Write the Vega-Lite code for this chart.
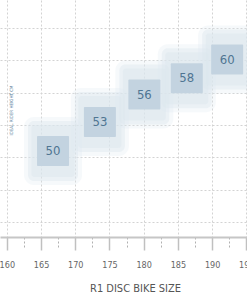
{
  "$schema": "https://vega.github.io/schema/vega-lite/v6.json",
  "width": 247,
  "height": 237,
  "autosize": {"type": "none"},
  "padding": {"left": 0, "top": 0, "right": 0, "bottom": 59},
  "background": "white",
  "data": {"values": [
    {"size": "50", "height": 166.75, "fit": 81.0},
    {"size": "53", "height": 173.6, "fit": 85.46},
    {"size": "56", "height": 180.1, "fit": 89.7},
    {"size": "58", "height": 186.3, "fit": 92.2},
    {"size": "60", "height": 192.2, "fit": 95.1}
  ]},
  "config": {
    "view": {"stroke": null},
    "font": "DejaVu Sans Condensed, Liberation Sans Narrow, sans-serif"
  },
  "encoding": {
    "x": {
      "field": "height", "type": "quantitative",
      "scale": {"domain": [159, 195.1], "nice": false, "zero": false},
      "axis": {
        "title": "R1 DISC BIKE SIZE",
        "values": [160, 162.5, 165, 167.5, 170, 172.5, 175, 177.5, 180, 182.5, 185, 187.5, 190, 192.5, 195],
        "labelExpr": "datum.value % 5 === 0 ? datum.label : ''",
        "labelFlush": false,
        "labelOverlap": false,
        "labelFontSize": 9,
        "labelColor": "#666666",
        "labelPadding": 10,
        "labelFont": "DejaVu Sans Condensed, Liberation Sans Narrow, sans-serif",
        "domainColor": "#c6c6c6",
        "domainWidth": 2,
        "tickSize": {"condition": {"test": "datum.value % 5 === 0", "value": 13}, "value": 11},
        "tickColor": {"condition": {"test": "datum.value % 5 === 0", "value": "#c0c0c0"}, "value": "#b0b0b0"},
        "tickDash": {"condition": {"test": "datum.value % 5 === 0", "value": []}, "value": [2, 2]},
        "tickWidth": {"condition": {"test": "datum.value % 5 === 0", "value": 1.5}, "value": 1},
        "grid": true,
        "gridColor": "#d3d3d3",
        "gridDash": [2, 2],
        "gridOpacity": {"condition": {"test": "datum.value % 5 === 0", "value": 1}, "value": 0},
        "titleFontSize": 11,
        "titleFontWeight": "normal",
        "titleColor": "#555555",
        "titleFont": "DejaVu Sans Condensed, Liberation Sans Narrow, sans-serif",
        "titleX": 135,
        "titleY": 54,
        "titleAnchor": null,
        "titleBaseline": "alphabetic"
      }
    },
    "y": {
      "field": "fit", "type": "quantitative",
      "scale": {"domain": [67.7, 104.3], "nice": false, "zero": false},
      "axis": {
        "title": "IDEAL RIDER HEIGHT CM",
        "values": [70, 75, 80, 85, 90, 95, 100],
        "labels": false,
        "ticks": false,
        "domain": false,
        "grid": true,
        "gridColor": "#d3d3d3",
        "gridDash": [2, 2],
        "titleFontSize": 4.5,
        "titleFontWeight": "normal",
        "titleColor": "#4f7592",
        "titleAngle": 270,
        "titleX": 11,
        "titleY": 110,
        "titleAlign": "center",
        "titleBaseline": "middle"
      }
    }
  },
  "layer": [
    {"mark": {"type": "rect", "width": 58, "height": 68, "color": "#dbe6ee", "opacity": 0.25, "cornerRadius": 10}},
    {"mark": {"type": "rect", "width": 50, "height": 60, "color": "#dbe6ee", "opacity": 0.4, "cornerRadius": 6}},
    {"mark": {"type": "rect", "width": 43, "height": 52, "color": "#dbe6ee", "opacity": 0.45, "cornerRadius": 3}},
    {"mark": {"type": "rect", "width": 32, "height": 30, "color": "#c3d3e0", "opacity": 1, "cornerRadius": 1}},
    {"mark": {"type": "text", "fontSize": 13, "color": "#4f7592", "baseline": "middle", "align": "center", "font": "DejaVu Sans Condensed, Liberation Sans Narrow, sans-serif"},
     "encoding": {"text": {"field": "size", "type": "nominal"}}}
  ]
}
